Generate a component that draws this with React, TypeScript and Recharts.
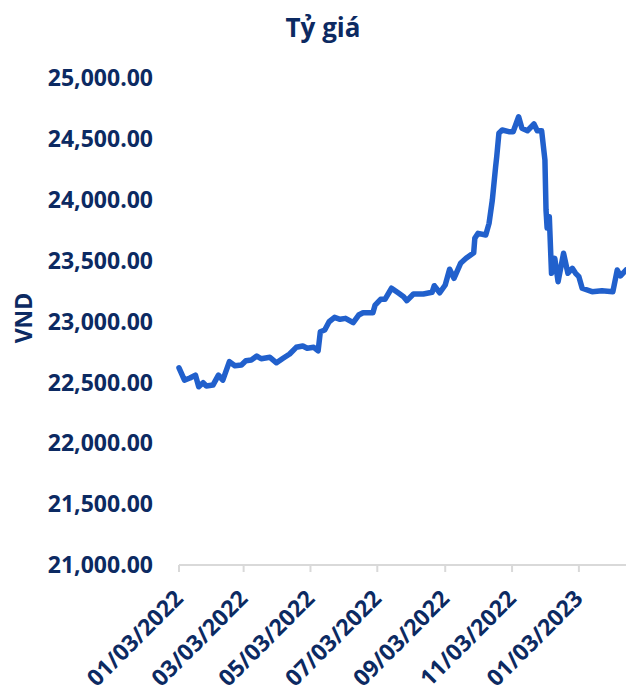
import React from "react";
import { LineChart, Line, XAxis, YAxis } from "recharts";

const dates: string[] = [
  "2022-01-03", "2022-01-08", "2022-01-13", "2022-01-18", "2022-01-21", "2022-01-25", "2022-01-28",
  "2022-02-03", "2022-02-08", "2022-02-12", "2022-02-18", "2022-02-23",
  "2022-03-01", "2022-03-05", "2022-03-10", "2022-03-15", "2022-03-19", "2022-03-27",
  "2022-04-02", "2022-04-08", "2022-04-14", "2022-04-20", "2022-04-26", "2022-04-30",
  "2022-05-06", "2022-05-10", "2022-05-12", "2022-05-16", "2022-05-20", "2022-05-25", "2022-05-30",
  "2022-06-04", "2022-06-11", "2022-06-16", "2022-06-20", "2022-06-29",
  "2022-07-01", "2022-07-06", "2022-07-10", "2022-07-16", "2022-07-22", "2022-07-27", "2022-07-30",
  "2022-08-05", "2022-08-14", "2022-08-22", "2022-08-24", "2022-08-29",
  "2022-09-03", "2022-09-07", "2022-09-11", "2022-09-17", "2022-09-22", "2022-09-29", "2022-09-30",
  "2022-10-03", "2022-10-10", "2022-10-13", "2022-10-16", "2022-10-19", "2022-10-20", "2022-10-22", "2022-10-25", "2022-10-31",
  "2022-11-04", "2022-11-09", "2022-11-12", "2022-11-17", "2022-11-23", "2022-11-26", "2022-11-30",
  "2022-12-03", "2022-12-04", "2022-12-05", "2022-12-07", "2022-12-09", "2022-12-12", "2022-12-15", "2022-12-20", "2022-12-24", "2022-12-28", "2022-12-31",
  "2023-01-03", "2023-01-06", "2023-01-15", "2023-01-24",
  "2023-02-03", "2023-02-07", "2023-02-10", "2023-02-15",
];

const rates: number[] = [
  22620, 22519, 22536, 22560, 22464, 22497, 22470,
  22478, 22560, 22519, 22670, 22637,
  22643, 22678, 22684, 22716, 22694, 22706,
  22661, 22698, 22733, 22788, 22799, 22780,
  22788, 22760, 22916, 22930, 22998, 23034, 23018,
  23026, 22990, 23053, 23072, 23072,
  23135, 23182, 23182, 23273, 23236, 23204, 23171,
  23226, 23226, 23240, 23294, 23236,
  23300, 23429, 23355, 23478, 23519, 23565, 23683,
  23724, 23710, 23806, 23998, 24271, 24353, 24546, 24573, 24559,
  24559, 24682, 24587, 24567, 24622, 24567, 24567,
  24326, 23916, 23768, 23861, 23396, 23519, 23327, 23560, 23396, 23437, 23396,
  23368, 23273, 23245, 23253,
  23245, 23423, 23374, 23423,
];

const xTickDates: string[] = [
  "2022-01-03", "2022-03-03", "2022-05-03", "2022-07-03", "2022-09-03", "2022-11-03", "2023-01-03",
];
const yTicks: number[] = [21000, 21500, 22000, 22500, 23000, 23500, 24000, 24500, 25000];
const xDomainDates: string[] = ["2022-01-03", "2023-02-15"];

const title = "Tỷ giá";
const yLabel = "VND";

const toTs = (s: string) => Date.parse(s + "T00:00:00Z");
const data = dates.map((d, i) => ({ t: toTs(d), v: rates[i] }));

const NAVY = "#0c2a62";
const FONT = "'Open Sans', sans-serif";

const fmtDate = (ts: number) => {
  const d = new Date(ts);
  const mm = String(d.getUTCMonth() + 1).padStart(2, "0");
  const dd = String(d.getUTCDate()).padStart(2, "0");
  return `${mm}/${dd}/${d.getUTCFullYear()}`;
};

const fmtNum = (v: number) =>
  v.toLocaleString("en-US", { minimumFractionDigits: 2, maximumFractionDigits: 2 });

const XTick = (props: any) => {
  const { x, y, payload } = props;
  const ax = x + 5.5;
  const ay = y + 26;
  return (
    <text
      x={ax}
      y={ay}
      transform={`rotate(-45, ${ax}, ${ay})`}
      textAnchor="end"
      fill={NAVY}
      fontFamily={FONT}
      fontWeight={700}
      fontSize={23}
    >
      {fmtDate(payload.value)}
    </text>
  );
};

export default function App() {
  return (
    <div style={{ position: "absolute", left: 0, top: 0, width: 626, height: 693, background: "#fff" }}>
      <svg width={626} height={50} style={{ position: "absolute", left: 0, top: 0 }}>
        <text
          x={323}
          y={36.5}
          textAnchor="middle"
          fill={NAVY}
          fontFamily={FONT}
          fontWeight={700}
          fontSize={26}
        >
          {title}
        </text>
      </svg>
      <LineChart
        width={626}
        height={693}
        data={data}
        margin={{ top: 78, right: 0, bottom: 0, left: 0 }}
      >
        <XAxis
          dataKey="t"
          type="number"
          scale="linear"
          domain={[toTs(xDomainDates[0]), toTs(xDomainDates[1])]}
          ticks={xTickDates.map(toTs)}
          height={128}
          axisLine={{ stroke: "#d9d9d9", strokeWidth: 2 }}
          tickLine={{ stroke: "#d9d9d9", strokeWidth: 2 }}
          tickSize={7}
          tickMargin={2}
          tick={<XTick />}
          interval={0}
        />
        <YAxis
          type="number"
          domain={[21000, 25000]}
          ticks={yTicks}
          width={179}
          axisLine={false}
          tickLine={false}
          tickSize={0}
          tickMargin={26}
          tickFormatter={fmtNum}
          tick={{ fill: NAVY, fontFamily: FONT, fontWeight: 700, fontSize: 23 }}
          interval={0}
          label={() => (
            <text
              x={23}
              y={318}
              transform="rotate(-90, 23, 318)"
              textAnchor="middle"
              dominantBaseline="central"
              fill={NAVY}
              fontFamily={FONT}
              fontWeight={700}
              fontSize={23}
            >
              {yLabel}
            </text>
          )}
        />
        <Line
          type="linear"
          dataKey="v"
          stroke="#2160cc"
          strokeWidth={5.5}
          strokeLinejoin="round"
          strokeLinecap="round"
          dot={false}
          activeDot={false}
          isAnimationActive={false}
        />
      </LineChart>
    </div>
  );
}
